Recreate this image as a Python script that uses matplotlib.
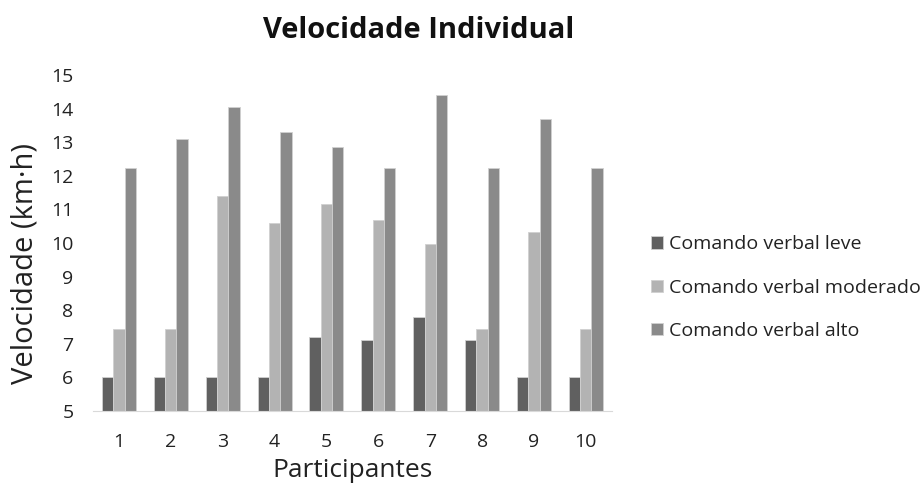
import matplotlib
matplotlib.use("Agg")
import matplotlib.pyplot as plt
import numpy as np

plt.rcParams['font.family'] = ['Open Sans', 'DejaVu Sans']

participants = ['1', '2', '3', '4', '5', '6', '7', '8', '9', '10']
leve = [6.0, 6.0, 6.0, 6.0, 7.2, 7.1, 7.8, 7.1, 6.0, 6.0]
moderado = [7.45, 7.45, 11.4, 10.6, 11.15, 10.7, 9.97, 7.45, 10.33, 7.45]
alto = [12.24, 13.1, 14.04, 13.32, 12.85, 12.24, 14.4, 12.24, 13.68, 12.24]
series_names = ['Comando verbal leve', 'Comando verbal moderado', 'Comando verbal alto']
colors = ['#606060', '#b3b3b3', '#8a8a8a']

fig = plt.figure(figsize=(9.24, 4.94), dpi=100)
ax = fig.add_axes([0.1006, 0.168, 0.5615, 0.68])

x = np.arange(len(participants))
w = 0.218
for i, (vals, name, c) in enumerate(zip([leve, moderado, alto], series_names, colors)):
    ax.bar(x + (i - 1) * w, np.array(vals) - 5, bottom=5, width=w, color=c,
           edgecolor='#d0d0d0', linewidth=0.6, label=name)

ax.set_ylim(5, 15)
ax.set_xlim(-0.5, 9.5)
ax.set_yticks(range(5, 16))
ax.set_xticks(x)
ax.set_xticklabels(participants)
ax.tick_params(length=0, labelsize=14, colors='#222222')
ax.tick_params(axis='x', pad=16)
ax.tick_params(axis='y', pad=14)
for s in ['top', 'right', 'left']:
    ax.spines[s].set_visible(False)
ax.spines['bottom'].set_color('#d9d9d9')

ax.set_xlabel('Participantes', fontsize=19, color='#222222', labelpad=5)
fig.text(25 / 924, 1 - 263 / 494, 'Velocidade (km·h)', rotation=90, ha='center', va='center',
         fontsize=21, color='#222222')
fig.text(419 / 924, 1 - 30 / 494, 'Velocidade Individual', ha='center', va='center',
         fontsize=21, fontweight='bold', color='#111111')

leg = ax.legend(loc='center left', bbox_to_anchor=(1.075, 0.367), frameon=False,
                fontsize=14, handlelength=0.62, handleheight=0.62, handletextpad=0.3,
                labelspacing=1.3, borderpad=0, borderaxespad=0, labelcolor='#222222')

fig.savefig('out.png', dpi=100)
